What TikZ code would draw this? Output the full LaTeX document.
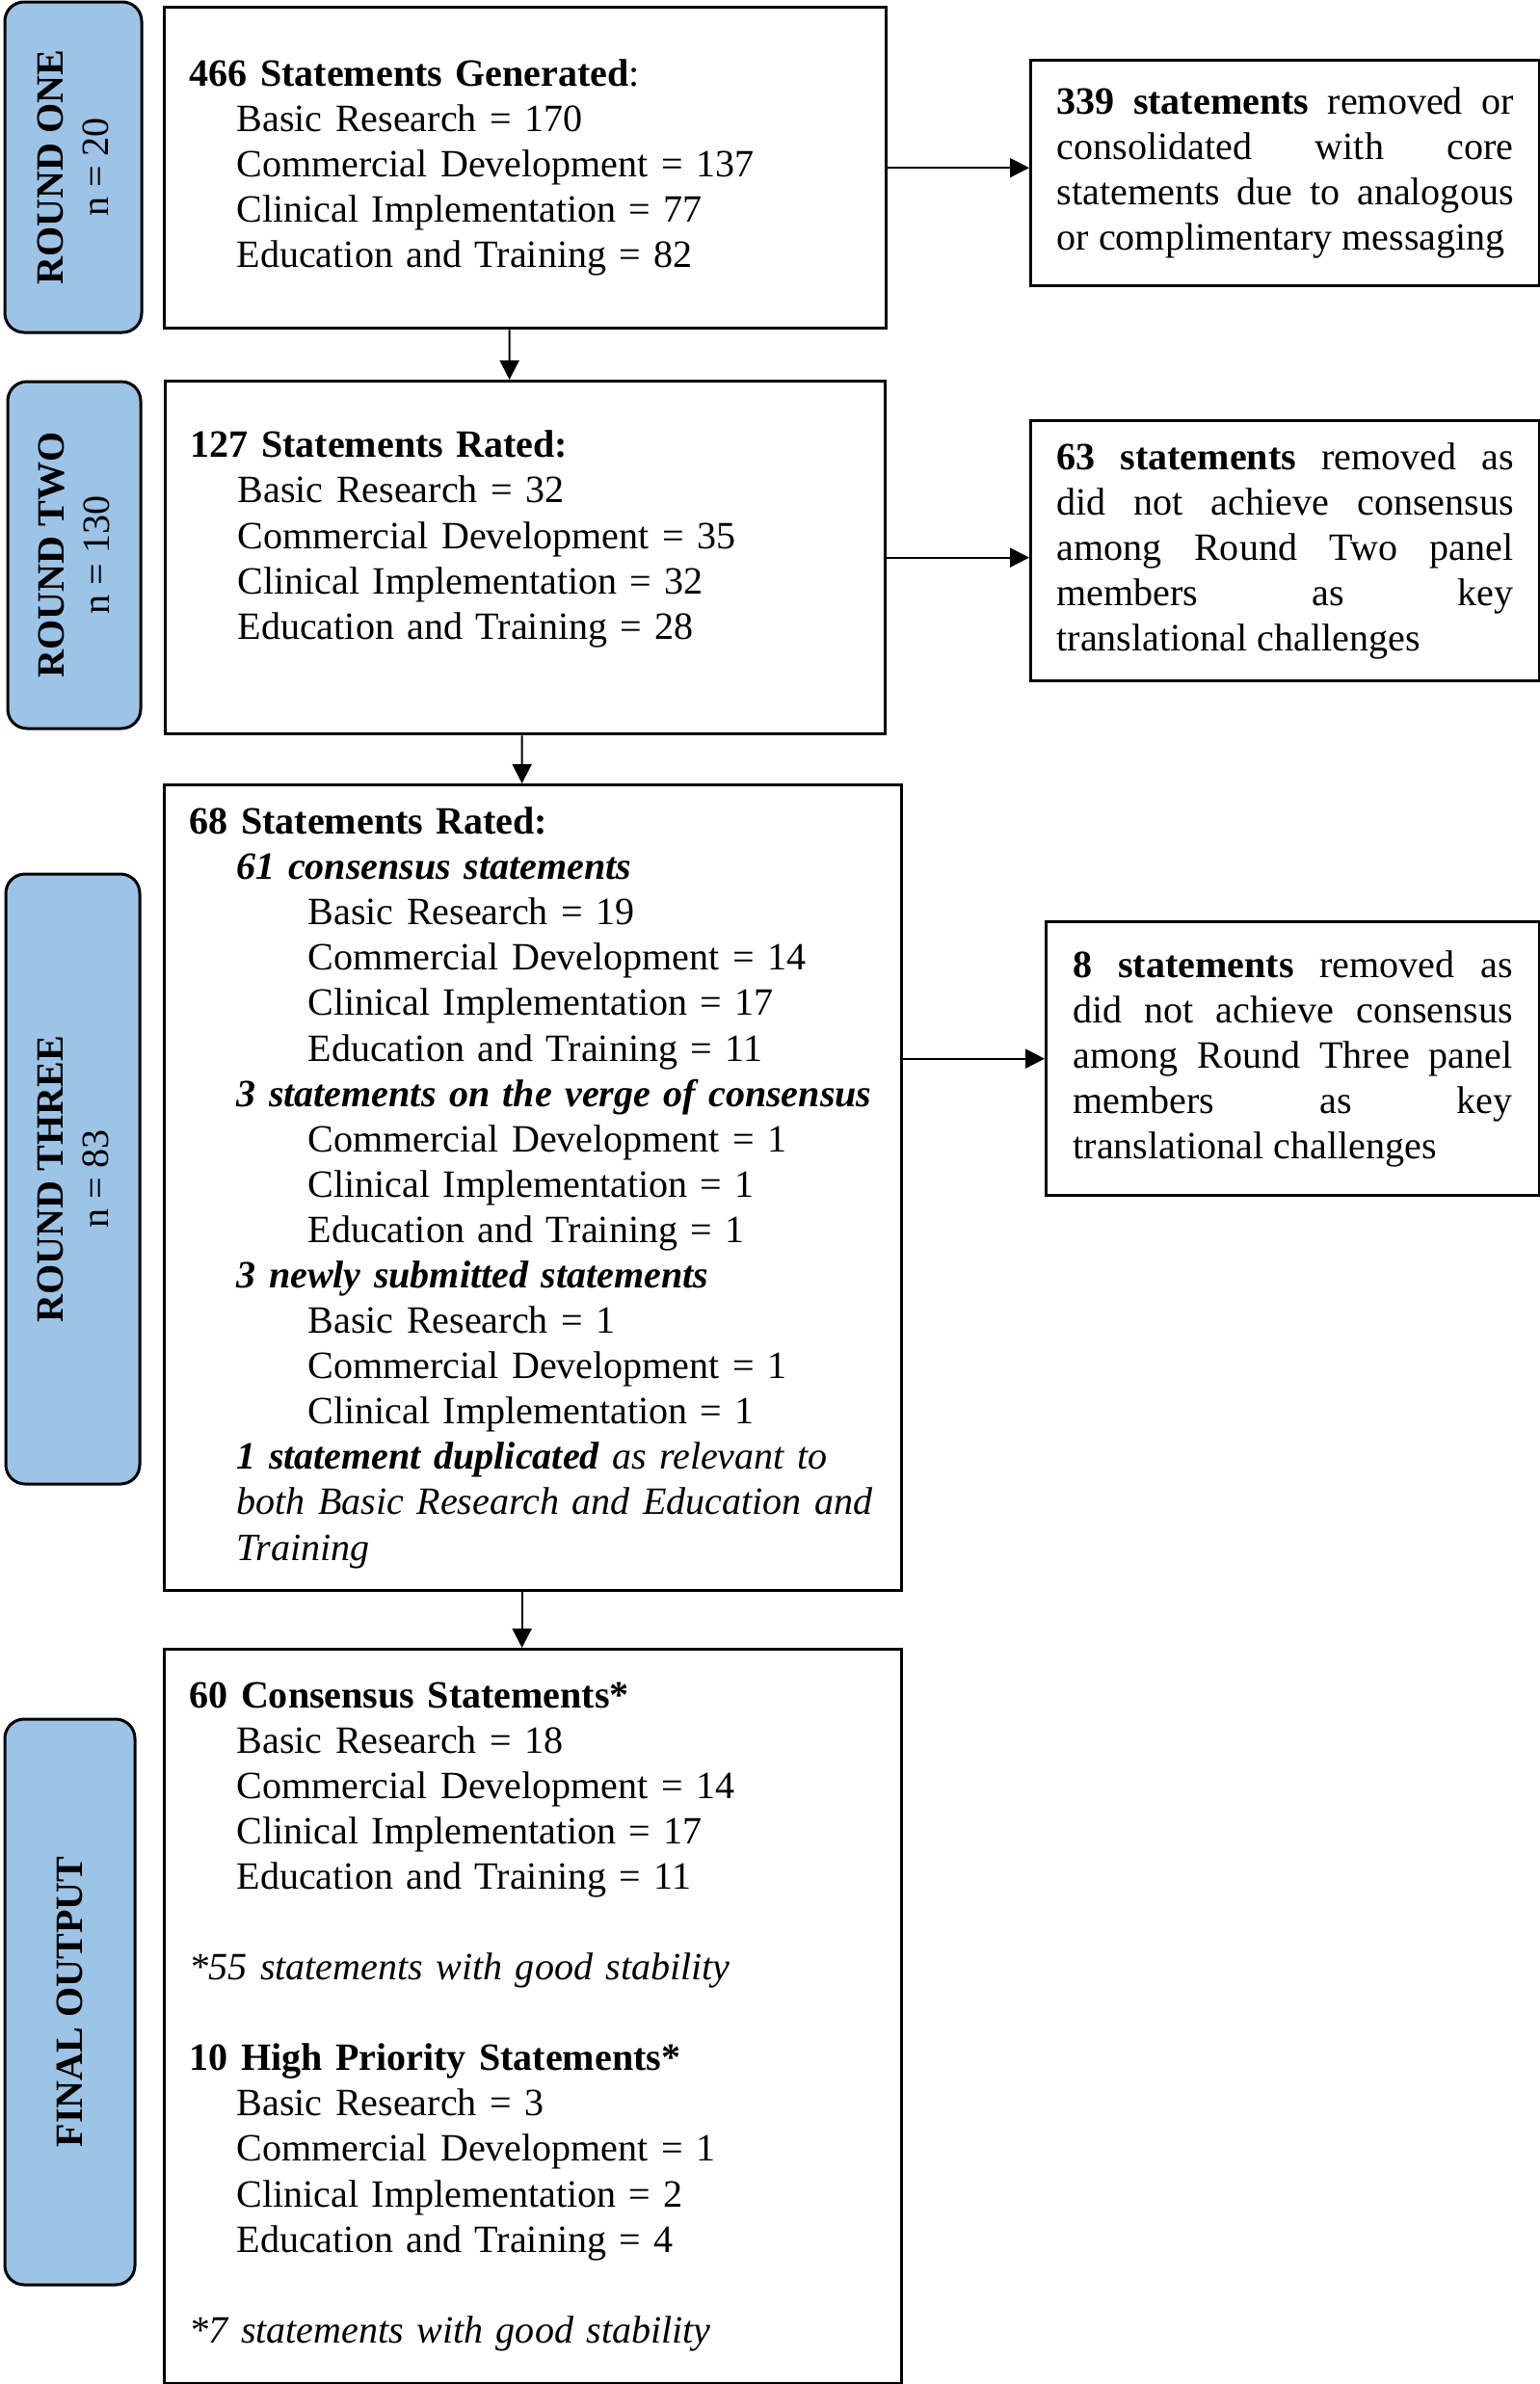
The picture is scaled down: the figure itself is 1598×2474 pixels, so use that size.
\documentclass[tikz,border=0pt]{standalone}
\usepackage{fontspec}
\setmainfont{Liberation Serif}
\usetikzlibrary{arrows.meta}
\definecolor{stageblue}{HTML}{9DC3E6}
\setlength{\parindent}{0pt}
\tolerance=10000
\hbadness=10000
\hfuzz=20pt
\def\lvlone{\hspace*{4.9mm}}
\def\lvltwo{\hspace*{12.3mm}}
\tikzset{
	txt/.style={font=\fontsize{11.4}{13.4}\selectfont},
	stage/.style={txt, draw, line width=0.3mm, fill=stageblue, rounded corners=2mm, rotate=90, align=center, inner sep=0pt},
	mainbox/.style={txt, draw, line width=0.33mm, anchor=north west, align=left, inner xsep=2.6mm, inner ysep=0pt},
	rembox/.style={txt, draw, line width=0.33mm, anchor=north west, align=justify, inner ysep=0pt},
	arr/.style={line width=0.2mm, -{Triangle[length=2mm,width=2mm]}}
}

\begin{document}
\begin{tikzpicture}[x=0.1mm, y=-0.1mm]
			%%%%% START %%%%%
			
			\useasboundingbox (0,0) rectangle (1598,2474);
			
			% round labels
			\node[stage, minimum width=34.3mm, minimum height=14.2mm] (lab1) at (76,173.5) {\textbf{ROUND ONE}\\n = 20};
			\node[stage, minimum width=36.0mm, minimum height=13.8mm] (lab2) at (77,576) {\textbf{ROUND TWO}\\n = 130};
			\node[stage, minimum width=63.3mm, minimum height=13.9mm] (lab3) at (75.5,1223.5) {\textbf{ROUND THREE}\\n = 83};
			\node[stage, minimum width=58.7mm, minimum height=13.5mm] (lab4) at (72.5,2077.5) {\textbf{FINAL OUTPUT}};
			
			% main boxes
			\node[mainbox, minimum width=74.9mm, minimum height=33.3mm, text width=69.7mm] (one) at (169,6) {\textbf{466 Statements Generated}:\\
				\lvlone Basic Research = 170\\
				\lvlone Commercial Development = 137\\
				\lvlone Clinical Implementation = 77\\
				\lvlone Education and Training = 82};
			
			\node[mainbox, minimum width=74.7mm, minimum height=36.6mm, text width=69.5mm] (two) at (170,394) {\textbf{127 Statements Rated:}\\
				\lvlone Basic Research = 32\\
				\lvlone Commercial Development = 35\\
				\lvlone Clinical Implementation = 32\\
				\lvlone Education and Training = 28\\ \mbox{}};
			
			\node[mainbox, minimum width=76.5mm, minimum height=83.6mm, text width=71.3mm] (three) at (169,813) {\textbf{68 Statements Rated:}\\
				\lvlone\textbf{\textit{61 consensus statements}}\\
				\lvltwo Basic Research = 19\\
				\lvltwo Commercial Development = 14\\
				\lvltwo Clinical Implementation = 17\\
				\lvltwo Education and Training = 11\\
				\lvlone\mbox{\textbf{\textit{3 statements on the verge of consensus}}}\\
				\lvltwo Commercial Development = 1\\
				\lvltwo Clinical Implementation = 1\\
				\lvltwo Education and Training = 1\\
				\lvlone\textbf{\textit{3 newly submitted statements}}\\
				\lvltwo Basic Research = 1\\
				\lvltwo Commercial Development = 1\\
				\lvltwo Clinical Implementation = 1\\
				\lvlone\mbox{\textit{\textbf{1 statement duplicated} as relevant to}}\\
				\lvlone\mbox{\textit{both Basic Research and Education and}}\\
				\lvlone\textit{Training}};
			
			\node[mainbox, minimum width=76.5mm, minimum height=76.2mm, text width=71.3mm] (four) at (169,1710) {\textbf{60 Consensus Statements*}\\
				\lvlone Basic Research = 18\\
				\lvlone Commercial Development = 14\\
				\lvlone Clinical Implementation = 17\\
				\lvlone Education and Training = 11\\[\baselineskip]
				\textit{*55 statements with good stability}\\[\baselineskip]
				\textbf{10 High Priority Statements*}\\
				\lvlone Basic Research = 3\\
				\lvlone Commercial Development = 1\\
				\lvlone Clinical Implementation = 2\\
				\lvlone Education and Training = 4\\[\baselineskip]
				\textit{*7 statements with good stability}};
			
			% removed boxes
			\node[rembox, minimum width=52.8mm, minimum height=23.4mm, text width=47.4mm, inner xsep=2.7mm] (rem1) at (1068,61) {\textbf{339 statements} removed or\linebreak consolidated with core\linebreak statements due to analogous\linebreak or complimentary messaging};
			\node[rembox, minimum width=52.8mm, minimum height=27.0mm, text width=47.4mm, inner xsep=2.7mm] (rem2) at (1068,435) {\textbf{63 statements} removed as\linebreak did not achieve consensus\linebreak among Round Two panel\linebreak members as key\linebreak translational challenges};
			\node[rembox, minimum width=51.2mm, minimum height=28.4mm, text width=45.6mm, inner xsep=2.8mm] (rem3) at (1084,955) {\textbf{8 statements} removed as\linebreak did not achieve consensus\linebreak among Round Three panel\linebreak members as key\linebreak translational challenges};
			
			% arrows
			\draw[arr] ([xshift=-1.65mm]one.south) -- ([xshift=-1.65mm]two.north);
			\draw[arr] ([xshift=-0.35mm]two.south) -- ([xshift=-1.15mm]three.north);
			\draw[arr] ([xshift=-1.15mm]three.south) -- ([xshift=-1.15mm]four.north);
			\draw[arr] (one.east) -- (one.east -| rem1.west);
			\draw[arr] (two.east) -- (two.east -| rem2.west);
			\draw[arr] (rem3.west -| three.east) -- (rem3.west);
			
			%%%%% END %%%%%
\end{tikzpicture}
\end{document}
